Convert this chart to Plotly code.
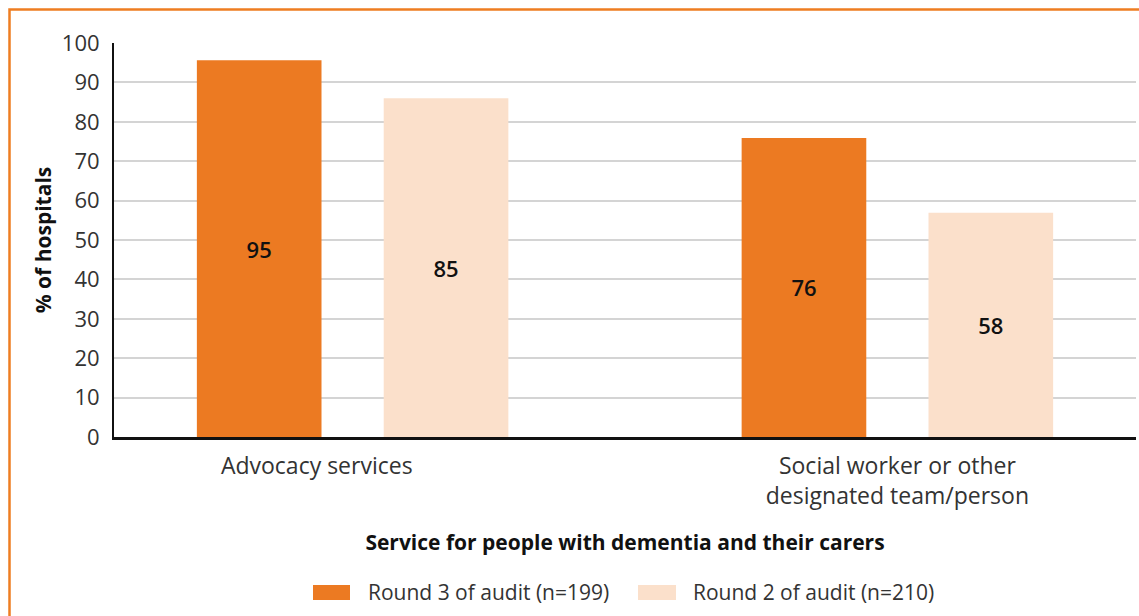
import plotly.graph_objects as go

categories = ["Advocacy services", "Social worker or other<br>designated team/person"]
tick_labels = ["Advocacy services" + "&nbsp;" * 12, "Social worker or other<br>designated team/person"]
series_names = ["Round 3 of audit (n=199)", "Round 2 of audit (n=210)"]
round3_heights = [95.6, 75.9]
round2_heights = [86.0, 56.9]
round3_labels = ["95", "76"]
round2_labels = ["85", "58"]
y_ticks = [0, 10, 20, 30, 40, 50, 60, 70, 80, 90, 100]

ORANGE = "#EC7A22"
PALE = "#FBE0CB"
FONT = "Open Sans"

L, T, PW, PH = 114, 43, 1022, 394


def px_x(p):
    return (p - L) / PW


def px_y(p):
    return (T + PH - p) / PH


fig = go.Figure()
colors = [ORANGE, PALE]
for name, h, lab, col in [
    (series_names[0], round3_heights, round3_labels, colors[0]),
    (series_names[1], round2_heights, round2_labels, colors[1]),
]:
    fig.add_trace(go.Bar(
        x=categories, y=h, name=name, marker_color=col, marker_line_width=0,
        text=lab, textposition="inside", insidetextanchor="middle",
        textfont=dict(family=FONT, size=22, color="#111111", weight=600),
        textangle=0, hoverinfo="skip", showlegend=False,
    ))

fig.update_layout(
    width=1139, height=616,
    margin=dict(l=L, r=1139 - L - PW, t=T, b=616 - T - PH, autoexpand=False),
    paper_bgcolor="white", plot_bgcolor="white",
    barmode="group", bargap=0.314, bargroupgap=0.333,
    font=dict(family=FONT, color="#222222"),
    showlegend=False,
    xaxis=dict(
        range=[-0.438, 1.438], automargin=False,
        tickvals=categories, ticktext=tick_labels,
        showline=True, linecolor="#111111", linewidth=2.5,
        showgrid=False, ticks="", ticklabelstandoff=7,
        tickfont=dict(family=FONT, size=23, color="#333333"),
        title=dict(text="<b>Service for people with dementia and their carers</b>",
                   font=dict(family=FONT, size=21, color="#111111"), standoff=26),
    ),
    yaxis=dict(
        range=[0, 100], tickvals=y_ticks, automargin=False,
        showline=True, linecolor="#111111", linewidth=2,
        showgrid=True, gridcolor="#D4D4D4", gridwidth=1.5,
        ticks="", ticklabelstandoff=8, zeroline=False,
        tickfont=dict(family=FONT, size=22, color="#333333"),
        title=dict(text="<b>% of hospitals</b>",
                   font=dict(family=FONT, size=21, color="#111111"), standoff=4),
    ),
)

# custom legend with wide swatches
legend_items = [(313, 350, 366), (638, 676, 691)]
for (sx0, sx1, tx), name, col in zip(legend_items, series_names, colors):
    fig.add_shape(type="rect", xref="paper", yref="paper",
                  x0=px_x(sx0), x1=px_x(sx1), y0=px_y(600), y1=px_y(585),
                  fillcolor=col, line=dict(width=0))
    fig.add_annotation(xref="paper", yref="paper", x=px_x(tx), y=px_y(592),
                       xanchor="left", yanchor="middle", showarrow=False,
                       text=name, font=dict(family=FONT, size=21, color="#333333"))

# orange frame around the figure (top and left edges visible)
fig.add_shape(type="rect", xref="paper", yref="paper",
              x0=px_x(9.5), x1=px_x(1300), y0=px_y(900), y1=px_y(9.5),
              line=dict(color="#EE7D22", width=2.5), fillcolor="rgba(0,0,0,0)",
              layer="below")

fig.write_html("out.html", config={"displayModeBar": False},
               post_script="document.body.style.margin='0';")
